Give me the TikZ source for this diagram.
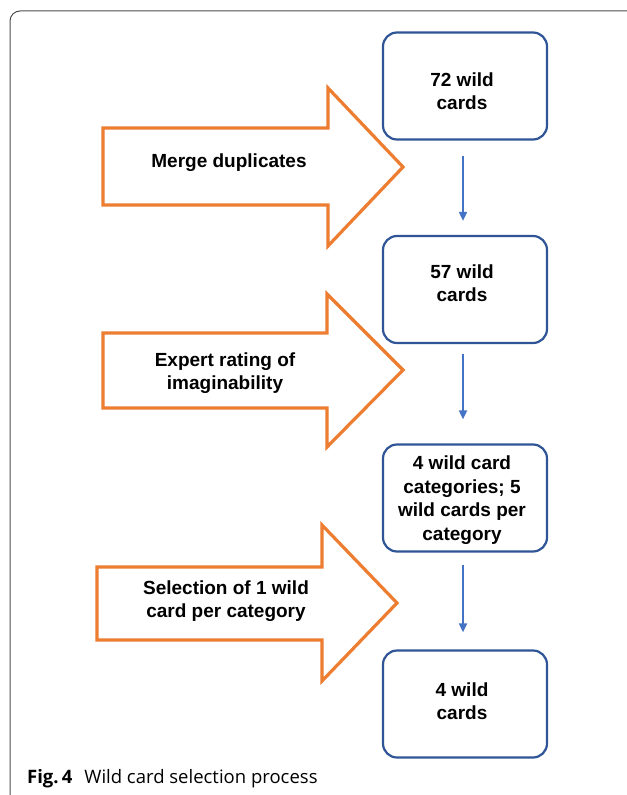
\documentclass[tikz,border=0pt]{standalone}
\usepackage{fontspec}
\setmainfont{Liberation Sans}
\newfontfamily\capfont{Open Sans}
\usetikzlibrary{arrows.meta}
\definecolor{orangeA}{HTML}{ED7D31}
\definecolor{boxblue}{HTML}{2F5597}
\definecolor{arrblue}{HTML}{4472C4}
\definecolor{framegray}{HTML}{4D4D4D}
\tikzset{
  cardbox/.style={draw=boxblue, line width=2.2bp, rounded corners=14bp, minimum width=164bp, minimum height=107bp, fill=white},
  cardtxt/.style={font=\fontsize{19bp}{23.5bp}\selectfont\bfseries, align=center, inner sep=0pt},
  bigarrow/.style={draw=orangeA, line width=3.2bp, line join=miter, fill=white},
  flowarrow/.style={draw=arrblue, line width=1.8bp, -{Triangle[width=8bp,length=9bp]}}
}
\begin{document}
\begin{tikzpicture}[x=1bp,y=-1bp]
\useasboundingbox (0,0) rectangle (627,795);
% frame
\draw[framegray, line width=1bp, rounded corners=10bp] (10,800) -- (10,11) -- (640,11);
% boxes
\node[cardbox] (b1) at (465,86) {};
\node[cardbox] (b2) at (465,289.5) {};
\node[cardbox] (b3) at (465,498) {};
\node[cardbox] (b4) at (465,704) {};
\node[cardtxt] (t1) at (462,91) {72 wild\\cards};
\node[cardtxt] (t2) at (462,283) {57 wild\\cards};
\node[cardtxt] (t3) at (462,500) {4 wild card\\categories; 5\\wild cards per\\category};
\node[cardtxt] (t4) at (462,701) {4 wild\\cards};
% flow arrows
\draw[flowarrow, shorten <=15bp, shorten >=14bp] ([xshift=-2bp]b1.south) -- ([xshift=-2bp]b2.north);
\draw[flowarrow, shorten <=10bp, shorten >=24bp] ([xshift=-2bp]b2.south) -- ([xshift=-2bp]b3.north);
\draw[flowarrow, shorten <=12bp, shorten >=17bp] ([xshift=-2bp]b3.south) -- ([xshift=-2bp]b4.north);
% big orange arrows
\draw[bigarrow] (103,128) -- (328,128) -- (328,88) -- (403,167) -- (328,246) -- (328,205) -- (103,205) -- cycle;
\node[cardtxt] (m1) at (229,163) {Merge duplicates};
\draw[bigarrow] (103,333) -- (327,333) -- (327,294) -- (403,370) -- (327,447) -- (327,408) -- (103,408) -- cycle;
\node[cardtxt] (m2) at (225,373) {Expert rating of\\imaginability};
\draw[bigarrow] (97,567) -- (322,567) -- (322,525) -- (397,603) -- (322,681) -- (322,640) -- (97,640) -- cycle;
\node[cardtxt] (m3) at (226,601) {Selection of 1 wild\\card per category};
% caption
\node[anchor=base west, inner sep=0pt, font=\capfont\fontsize{18.5bp}{21bp}\selectfont] (cap) at (27,783) {\textbf{Fig.\,4}\hspace{12bp}Wild card selection process};
\end{tikzpicture}
\end{document}
